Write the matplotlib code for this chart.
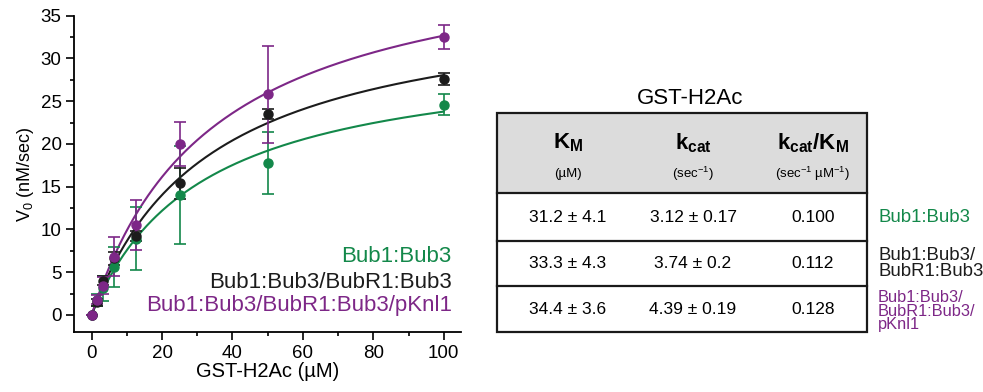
import matplotlib

matplotlib.use("Agg")
import matplotlib.pyplot as plt
import numpy as np
from matplotlib.patches import Rectangle
from matplotlib.ticker import MultipleLocator

plt.rcParams["font.family"] = ["Liberation Sans", "DejaVu Sans"]
plt.rcParams["mathtext.fontset"] = "custom"
plt.rcParams["mathtext.rm"] = "Liberation Sans"
plt.rcParams["mathtext.it"] = "Liberation Sans"
plt.rcParams["mathtext.bf"] = "Liberation Sans:bold"

# substrate concentrations (uM)
conc = [0, 1.5625, 3.125, 6.25, 12.5, 25, 50, 100]

# initial rates, nM/sec
v_bub1 = [0, 1.8, 3.1, 5.6, 8.9, 14.0, 17.8, 24.6]
err_bub1 = [0, 0.7, 1.5, 2.3, 3.7, 5.7, 3.6, 1.2]
v_bubr1 = [0, 1.5, 4.0, 6.6, 9.2, 15.4, 23.5, 27.6]
err_bubr1 = [0, 0.4, 0.5, 0.8, 0.6, 1.8, 0.6, 0.7]
v_knl1 = [0, 1.8, 3.4, 6.8, 10.5, 20.0, 25.8, 32.5]
err_knl1 = [0, 0.5, 1.0, 2.3, 2.9, 2.6, 5.7, 1.4]

# fitted Michaelis-Menten parameters
km = [31.2, 33.3, 34.4]
km_err = [4.1, 4.3, 3.6]
kcat = [3.12, 3.74, 4.39]
kcat_err = [0.17, 0.2, 0.19]
kcat_km = ["0.100", "0.112", "0.128"]
enzyme_nM = 10.0

labels = ["Bub1:Bub3", "Bub1:Bub3/BubR1:Bub3", "Bub1:Bub3/BubR1:Bub3/pKnl1"]
row_labels = ["Bub1:Bub3", "Bub1:Bub3/\nBubR1:Bub3", "Bub1:Bub3/\nBubR1:Bub3/\npKnl1"]
colors = ["#13884a", "#1c1c1c", "#7d2787"]

fig = plt.figure(figsize=(9.83, 3.92), dpi=100)
ax = fig.add_axes([0.0753, 0.153, 0.394, 0.807])

xs = np.linspace(0, 100, 300)
series = [(v_bub1, err_bub1), (v_bubr1, err_bubr1), (v_knl1, err_knl1)]
for i, (v, e) in enumerate(series):
    vmax = kcat[i] * enzyme_nM
    ax.plot(xs, vmax * xs / (km[i] + xs), color=colors[i], lw=1.5, zorder=2)
    ax.errorbar(conc, v, yerr=e, fmt="o", color=colors[i], ms=6.5,
                elinewidth=1.2, capsize=4, capthick=1.2, zorder=3)

ax.set_xlim(-5, 105)
ax.set_ylim(-2, 35)
ax.xaxis.set_major_locator(MultipleLocator(20))
ax.xaxis.set_minor_locator(MultipleLocator(10))
ax.yaxis.set_major_locator(MultipleLocator(5))
ax.yaxis.set_minor_locator(MultipleLocator(2.5))
ax.tick_params(which="both", direction="out", width=1.2, labelsize=13.5)
ax.tick_params(which="major", length=5.5)
ax.tick_params(which="minor", length=3)
for side in ("top", "right"):
    ax.spines[side].set_visible(False)
for side in ("left", "bottom"):
    ax.spines[side].set_linewidth(1.3)
ax.set_xlabel("GST-H2Ac (\u00b5M)", fontsize=14.5, labelpad=0)
ax.set_ylabel("V$_0$ (nM/sec)", fontsize=13, labelpad=3)

legend_y = [0.24, 0.158, 0.085]
for i, lab in enumerate(labels):
    ax.text(0.975, legend_y[i], lab, transform=ax.transAxes, ha="right",
            va="center", fontsize=16, color=colors[i])

# kinetic parameter table, drawn in pixel coordinates
tab = fig.add_axes([0, 0, 1, 1])
tab.set_xlim(0, 983)
tab.set_ylim(392, 0)
tab.axis("off")

left, right = 497, 867
rows = [113, 193, 241, 286, 332]
tab.add_patch(Rectangle((left, rows[0]), right - left, rows[1] - rows[0],
                        facecolor="#dcdcdc", edgecolor="none"))
tab.add_patch(Rectangle((left, rows[0]), right - left, rows[-1] - rows[0],
                        facecolor="none", edgecolor="#1a1a1a", lw=1.6))
for y in rows[1:-1]:
    tab.plot([left, right], [y, y], color="#1a1a1a", lw=1.6)

tab.text(690, 98, "GST-H2Ac", ha="center", va="center", fontsize=16)

col_x = [568, 693, 813]
heads = [r"$\mathbf{K_M}$", r"$\mathbf{k_{cat}}$", r"$\mathbf{k_{cat}/K_M}$"]
units = ["(\u00b5M)", "(sec$^{-1}$)", "(sec$^{-1}$ \u00b5M$^{-1}$)"]
for cx, h, u in zip(col_x, heads, units):
    tab.text(cx, 143, h, ha="center", va="center", fontsize=16)
    tab.text(cx, 174, u, ha="center", va="center", fontsize=9.5)

label_size = [13.4, 13.4, 11.8]
label_spacing = [0.87, 0.87, 0.88]
for i in range(3):
    yc = (rows[i + 1] + rows[i + 2]) / 2
    tab.text(col_x[0], yc, f"{km[i]} \u00b1 {km_err[i]}", ha="center",
             va="center", fontsize=12.5)
    tab.text(col_x[1], yc, f"{kcat[i]} \u00b1 {kcat_err[i]}", ha="center",
             va="center", fontsize=12.5)
    tab.text(col_x[2], yc, kcat_km[i], ha="center", va="center",
             fontsize=12.5)
    tab.text(878, yc + (2 if i == 2 else 0), row_labels[i], ha="left",
             va="center", fontsize=label_size[i], color=colors[i],
             linespacing=label_spacing[i])

fig.savefig("out.png", dpi=100)
